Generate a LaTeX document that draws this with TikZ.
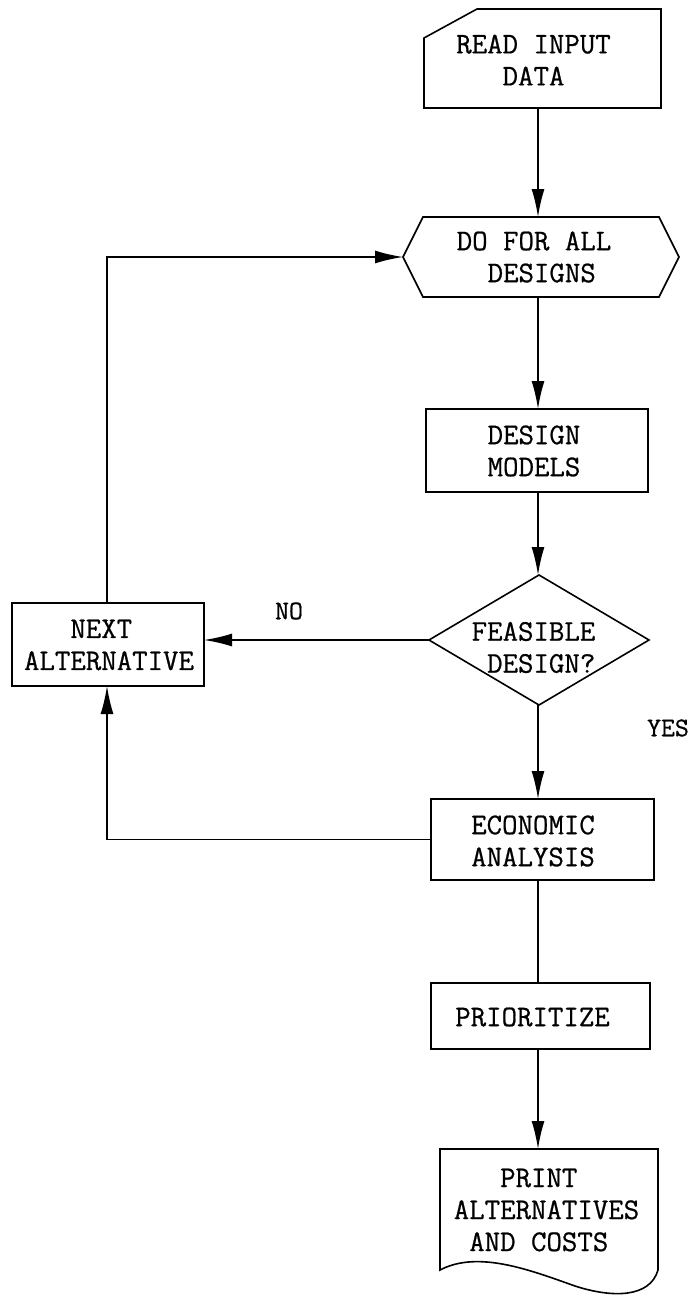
\documentclass[tikz,border=0pt]{standalone}
\usepackage{fontspec}
\usetikzlibrary{arrows.meta}
\newfontfamily\typewriter{Latin Modern Mono}[FakeBold=0.7]
\begin{document}
\begin{tikzpicture}[x=1pt,y=-1pt,
  outline/.style={draw, line width=1.6pt, line join=miter},
  frame/.style={inner sep=0pt, outer sep=0pt},
  boxframe/.style={frame, draw, line width=1.6pt},
  txt/.style={font=\typewriter\fontsize{30}{32}\selectfont, align=center, inner sep=0pt},
  tag/.style={font=\typewriter\fontsize{27}{30}\selectfont, inner sep=0pt},
  flow/.style={line width=1.6pt, -{Latex[length=28pt,width=13pt]}},
  link/.style={line width=1.6pt}]
\useasboundingbox (0,0) rectangle (694,1298);
\coordinate (axis) at (538,0);
\coordinate (loopx) at (107,0);

% input card with clipped corner
\node[frame, minimum width=237pt, minimum height=99pt] (read) at (542.5,58.5) {};
\draw[outline] ([xshift=53pt]read.north west) -- (read.north east) -- (read.south east)
  -- (read.south west) -- ([yshift=-29pt]read.north west) -- cycle;
\node[txt] (readtxt) at (533.5,60) {READ INPUT\\DATA};

% loop header (hexagon)
\node[frame, minimum width=276pt, minimum height=80pt] (do) at (541,257) {};
\draw[outline] (do.west) -- ([xshift=20pt]do.north west) -- ([xshift=-20pt]do.north east)
  -- (do.east) -- ([xshift=-20pt]do.south east) -- ([xshift=20pt]do.south west) -- cycle;
\node[txt] (dotxt) at (534,257) {DO FOR ALL\\\phantom{X}DESIGNS};

% design models
\node[boxframe, minimum width=222pt, minimum height=83pt] (design) at (537,450.5) {};
\node[txt] (designtxt) at (534,451) {DESIGN\\MODELS};

% decision
\node[frame, minimum width=220pt, minimum height=130pt] (feas) at (539,640) {};
\draw[outline] (feas.north) -- (feas.east) -- (feas.south) -- (feas.west) -- cycle;
\node[txt] (feastxt) at (533.5,647.5) {FEASIBLE\\\phantom{X}DESIGN?};

% next alternative
\node[boxframe, minimum width=192pt, minimum height=83pt] (next) at (108,644.5) {};
\node[txt] (nexttxt) at (109,645) {NEXT\phantom{X}\\ALTERNATIVE};

% economic analysis
\node[boxframe, minimum width=223pt, minimum height=81pt] (econ) at (542.5,839.5) {};
\node[txt] (econtxt) at (533,841) {ECONOMIC\\ANALYSIS};

% prioritize
\node[boxframe, minimum width=219pt, minimum height=66pt] (prio) at (540.5,1016) {};
\node[txt] (priotxt) at (532.5,1017) {PRIORITIZE};

% printed document
\node[frame, minimum width=218pt, minimum height=121pt] (print) at (549,1209.5) {};
\draw[outline] (print.south west) -- (print.north west) -- (print.north east) -- (print.south east)
  .. controls (650,1298) and (612,1298) .. (575,1286)
  .. controls (530,1270) and (478,1250) .. (print.south west) -- cycle;
\node[txt] (printtxt) at (546.5,1210) {PRINT\phantom{X}\\ALTERNATIVES\\AND COSTS\phantom{X}};

% main flow
\draw[flow] (read.south -| axis) -- (do.north -| axis);
\draw[flow] (do.south -| axis) -- (design.north -| axis);
\draw[flow] (design.south -| axis) -- (feas.north -| axis);
\draw[flow] (feas.south -| axis) -- (econ.north -| axis);
\draw[link] (econ.south -| axis) -- (prio.north -| axis);
\draw[flow] (prio.south -| axis) -- (print.north -| axis);

% rejection and loop back
\draw[flow] (feas.west) -- (feas.west -| next.east);
\draw[flow] (next.north -| loopx) -- (loopx |- do.west) -- (do.west);
\draw[flow] (econ.west) -- (econ.west -| loopx) -- (next.south -| loopx);

% branch labels
\node[tag] (no) at (289,611) {NO};
\node[tag] (yes) at (668,728) {YES};
\end{tikzpicture}
\end{document}
